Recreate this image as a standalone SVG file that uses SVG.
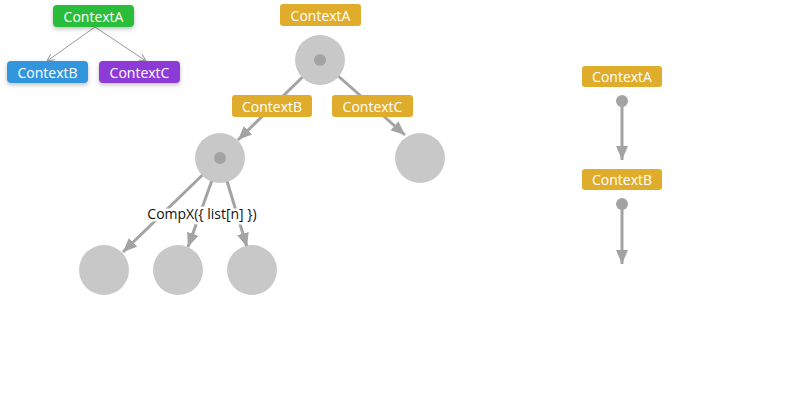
<svg xmlns="http://www.w3.org/2000/svg" width="800" height="400" viewBox="0 0 800 400">
<style>
.lbl{font-family:"Open Sans","Noto Sans","DejaVu Sans",sans-serif;font-size:14px;fill:#fff;text-anchor:middle;dominant-baseline:central}
.ctx{fill:#e0ac2c}
.circ{fill:#c8c8c8}
.dot{fill:#a3a3a3}
.edge{stroke:#a3a3a3;stroke-width:3;fill:none}
.thin{stroke:#999;stroke-width:1;fill:none}
.cap{font-family:"Open Sans","Noto Sans","DejaVu Sans",sans-serif;font-size:14px;fill:#111;text-anchor:middle;dominant-baseline:central;stroke:#fff;stroke-width:5;paint-order:stroke;stroke-linejoin:round}
</style>
<defs>
<marker id="arr" viewBox="0 0 14 12" refX="14" refY="6" markerWidth="14" markerHeight="12" markerUnits="userSpaceOnUse" orient="auto">
<path d="M0,0 L14,6 L0,12 Z" fill="#a3a3a3"/>
</marker>
<marker id="arrs" viewBox="0 0 8 8" refX="7" refY="4" markerWidth="8" markerHeight="8" markerUnits="userSpaceOnUse" orient="auto">
<path d="M0,0.5 L7,4 L0,7.5" fill="none" stroke="#999" stroke-width="1"/>
</marker>
<filter id="sh" x="-20%" y="-30%" width="140%" height="180%">
<feDropShadow dx="0" dy="2" stdDeviation="2" flood-color="#000" flood-opacity="0.25"/>
</filter>
</defs>
<g id="connectors">
<line class="thin" x1="95" y1="27" x2="47" y2="61" marker-end="url(#arrs)"/>
<line class="thin" x1="95" y1="27" x2="146" y2="61" marker-end="url(#arrs)"/>
<line class="edge" x1="320" y1="60" x2="238" y2="140" marker-end="url(#arr)"/>
<line class="edge" x1="320" y1="60" x2="405" y2="135" marker-end="url(#arr)"/>
<line class="edge" x1="220" y1="158" x2="123" y2="252" marker-end="url(#arr)"/>
<line class="edge" x1="220" y1="158" x2="188" y2="247" marker-end="url(#arr)"/>
<line class="edge" x1="220" y1="158" x2="247" y2="247" marker-end="url(#arr)"/>
<line class="edge" x1="622" y1="101" x2="622" y2="160" marker-end="url(#arr)"/>
<line class="edge" x1="622" y1="204" x2="622" y2="264" marker-end="url(#arr)"/>
</g>
<g id="tl-contextA"><rect x="53" y="5" width="81" height="22" rx="4" fill="#2bbd3a" filter="url(#sh)"/><text class="lbl" x="93.5" y="16">ContextA</text></g>
<g id="tl-contextB"><rect x="7" y="61" width="81" height="22" rx="4" fill="#3196de" filter="url(#sh)"/><text class="lbl" x="47.5" y="72">ContextB</text></g>
<g id="tl-contextC"><rect x="99" y="61" width="81" height="22" rx="4" fill="#8d3bd7" filter="url(#sh)"/><text class="lbl" x="139.5" y="72">ContextC</text></g>
<g id="root"><circle class="circ" cx="320" cy="60" r="25"/><circle class="dot" cx="320" cy="60" r="6"/></g>
<g id="nodeB"><circle class="circ" cx="220" cy="158" r="25"/><circle class="dot" cx="220" cy="158" r="6"/></g>
<g id="nodeC"><circle class="circ" cx="420" cy="158" r="25"/></g>
<g id="leaf1"><circle class="circ" cx="104" cy="270" r="25"/></g>
<g id="leaf2"><circle class="circ" cx="178" cy="270" r="25"/></g>
<g id="leaf3"><circle class="circ" cx="252" cy="270" r="25"/></g>
<g id="mid-contextA"><rect class="ctx" x="280" y="4" width="81" height="22" rx="3"/><text class="lbl" x="320.5" y="15">ContextA</text></g>
<g id="mid-contextB"><rect class="ctx" x="232" y="95" width="80" height="22" rx="3"/><text class="lbl" x="272" y="106">ContextB</text></g>
<g id="mid-contextC"><rect class="ctx" x="332" y="95" width="81" height="22" rx="3"/><text class="lbl" x="372.5" y="106">ContextC</text></g>
<g id="compx-label"><text class="cap" x="202" y="213">CompX({ list[n] })</text></g>
<g id="r-contextA"><rect class="ctx" x="582" y="66" width="80" height="21" rx="3"/><text class="lbl" x="622" y="76.5">ContextA</text><circle class="dot" cx="622" cy="101" r="6"/></g>
<g id="r-contextB"><rect class="ctx" x="582" y="169" width="80" height="21" rx="3"/><text class="lbl" x="622" y="179.5">ContextB</text><circle class="dot" cx="622" cy="204" r="6"/></g>
</svg>
